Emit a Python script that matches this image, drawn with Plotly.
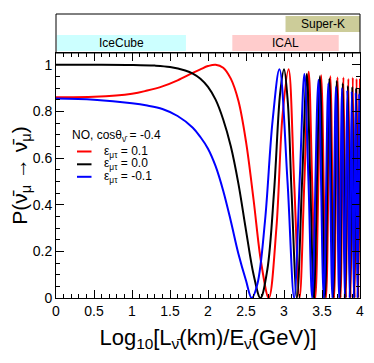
import plotly.graph_objects as go

# ---------------- data ----------------
x_red = [0.0, 0.5, 1.0, 1.2, 1.4, 1.6, 1.8, 1.9, 2.0, 2.1, 2.2, 2.3, 2.4, 2.5, 2.6, 2.7, 2.80,
         2.9, 2.98, 3.06, 3.133, 3.205, 3.268, 3.325, 3.37, 3.414, 3.489, 3.554, 3.61, 3.66,
         3.704, 3.745, 3.782, 3.816, 3.847, 3.877, 3.905, 3.930, 3.955, 3.978, 4.0]
y_red = [0.86, 0.862, 0.875, 0.889, 0.907, 0.933, 0.965, 0.98, 0.994, 1.0, 0.987, 0.94, 0.845,
         0.67, 0.42, 0.15, 0.0, 0.30, 0.78, 0.98, 0.5, 0.0, 0.5, 0.97, 0.5, 0.0, 0.955, 0.0,
         0.95, 0.0, 0.945, 0.0, 0.945, 0.0, 0.94, 0.0, 0.945, 0.0, 0.94, 0.0, 0.94]

x_black = [0.0, 0.5, 1.0, 1.3, 1.5, 1.7, 1.8, 1.9, 2.0, 2.1, 2.2, 2.3, 2.4, 2.5, 2.6, 2.69,
           2.78, 2.87, 2.95, 3.0, 3.05, 3.1, 3.17, 3.238, 3.30, 3.347, 3.393, 3.472, 3.539,
           3.597, 3.648, 3.694, 3.735, 3.773, 3.808, 3.840, 3.870, 3.898, 3.924, 3.949, 3.972, 3.997]
y_black = [1.0, 1.0, 0.999, 0.996, 0.99, 0.975, 0.962, 0.94, 0.905, 0.85, 0.765, 0.65, 0.49,
           0.29, 0.10, 0.0, 0.12, 0.46, 0.88, 0.98, 0.84, 0.45, 0.0, 0.5, 0.96, 0.48, 0.0, 0.95,
           0.0, 0.94, 0.0, 0.93, 0.0, 0.92, 0.0, 0.91, 0.0, 0.905, 0.0, 0.90, 0.0, 0.90]

x_blue = [0.0, 0.5, 1.0, 1.2, 1.4, 1.6, 1.8, 1.9, 2.0, 2.1, 2.2, 2.3, 2.4, 2.5, 2.575, 2.65,
          2.75, 2.85, 2.94, 3.046, 3.133, 3.206, 3.268, 3.322, 3.371, 3.453, 3.523, 3.583,
          3.636, 3.683, 3.725, 3.764, 3.799, 3.832, 3.863, 3.891, 3.918, 3.943, 3.967, 3.989, 4.0]
y_blue = [0.855, 0.85, 0.835, 0.825, 0.81, 0.78, 0.73, 0.69, 0.64, 0.565, 0.46, 0.33, 0.19,
          0.075, 0.0, 0.06, 0.33, 0.76, 0.98, 0.5, 0.0, 0.5, 0.96, 0.5, 0.0, 0.935, 0.0, 0.92,
          0.0, 0.905, 0.0, 0.90, 0.0, 0.89, 0.0, 0.885, 0.0, 0.88, 0.0, 0.875, 0.5]

series_x = [x_red, x_black, x_blue]
series_y = [y_red, y_black, y_blue]
series_names = ["ε<sub>μτ</sub> = 0.1", "ε<sub>μτ</sub> = 0.0", "ε<sub>μτ</sub> = -0.1"]
series_colors = ["#ff0000", "#000000", "#0000ff"]
legend_header = "NO, cosθ<sub>ν̄</sub> = -0.4"

band_names = ["IceCube", "ICAL", "Super-K"]
band_start = [0.01, 2.32, 3.02]
band_end = [1.71, 3.72, 4.0]
band_colors = ["#ccffff", "#ffcccc", "#cccc99"]
band_upper = [False, False, True]

x_tickvals = [0, 0.5, 1, 1.5, 2, 2.5, 3, 3.5, 4]
x_ticktext = ["0", "0.5", "1", "1.5", "2", "2.5", "3", "3.5", "4"]
y_tickvals = [0, 0.2, 0.4, 0.6, 0.8, 1.0]
y_ticktext = ["0", "0.2", "0.4", "0.6", "0.8", "1"]

# ---------------- figure ----------------
FONT = "Liberation Sans, Arial, sans-serif"
OFF = 8                       # page body margin of the html page
W, H = 374 - OFF, 363 - OFF
ML, MR, MT, MB = 56 - OFF, 14, 14 - OFF, 65
PH = H - MT - MB
PW = W - ML - MR
main_top_px = 53              # top of the main frame, in page pixels


def py2paper(py):
    return (H - MB - (py - OFF)) / PH


def px2paper(px):
    return ((px - OFF) - ML) / PW


dom_top = py2paper(main_top_px)

fig = go.Figure()
for xs, ys, nm, col in zip(series_x, series_y, series_names, series_colors):
    fig.add_trace(go.Scatter(x=xs, y=ys, mode="lines", name=nm,
                             line=dict(color=col, width=2, shape="spline", smoothing=1.0),
                             showlegend=False, hoverinfo="skip"))

shapes = []
annotations = []
# top panel frame
shapes.append(dict(type="rect", xref="paper", yref="paper", x0=0, x1=1, y0=dom_top, y1=1,
                   line=dict(color="black", width=1), fillcolor="rgba(0,0,0,0)", layer="above"))
for nm, s, e, c, up in zip(band_names, band_start, band_end, band_colors, band_upper):
    if up:
        y0, y1 = py2paper(32), py2paper(16)
    else:
        y0, y1 = py2paper(51), py2paper(35)
    shapes.append(dict(type="rect", xref="x", yref="paper", x0=s, x1=e, y0=y0, y1=y1,
                       line=dict(width=0), fillcolor=c, layer="below"))
    annotations.append(dict(x=(s + e) / 2, y=(y0 + y1) / 2, xref="x", yref="paper",
                            text=nm, showarrow=False, xanchor="center", yanchor="middle",
                            font=dict(family=FONT, size=12, color="black")))

# legend (header + swatches)
annotations.append(dict(x=px2paper(70), y=py2paper(136), xref="paper", yref="paper",
                        text=legend_header, showarrow=False, xanchor="left", yanchor="middle",
                        font=dict(family=FONT, size=12, color="black")))
row_py = [151.5, 164.3, 176.8]
for nm, col, rp in zip(series_names, series_colors, row_py):
    shapes.append(dict(type="line", xref="paper", yref="paper", x0=px2paper(77), x1=px2paper(91.5),
                       y0=py2paper(rp), y1=py2paper(rp), line=dict(color=col, width=2)))
    annotations.append(dict(x=px2paper(102), y=py2paper(rp), xref="paper", yref="paper",
                            text=nm, showarrow=False, xanchor="left", yanchor="middle",
                            font=dict(family=FONT, size=12, color="black")))

fig.update_layout(
    width=W, height=H,
    margin=dict(l=ML, r=MR, t=MT, b=MB, autoexpand=False),
    paper_bgcolor="white", plot_bgcolor="white",
    font=dict(family=FONT, size=14, color="black"),
    showlegend=False,
    shapes=shapes, annotations=annotations,
    xaxis=dict(range=[0, 4], tickvals=x_tickvals, ticktext=x_ticktext,
               showgrid=False, zeroline=False, showline=True, linecolor="black", linewidth=1,
               mirror="ticks", ticks="inside", ticklen=8, tickcolor="black",
               minor=dict(dtick=0.1, ticks="inside", ticklen=4, tickcolor="black", showgrid=False),
               tickfont=dict(family=FONT, size=14),
               title=dict(text="Log<sub>10</sub>[L<sub>ν̄</sub>(km)/E<sub>ν̄</sub>(GeV)]",
                          font=dict(family=FONT, size=22), standoff=11),
               anchor="y"),
    yaxis=dict(range=[0, 1.05], domain=[0, dom_top], tickvals=y_tickvals, ticktext=y_ticktext,
               showgrid=False, zeroline=False, showline=True, linecolor="black", linewidth=1,
               mirror="ticks", ticks="inside", ticklen=8, tickcolor="black",
               minor=dict(dtick=0.05, ticks="inside", ticklen=4, tickcolor="black", showgrid=False),
               tickfont=dict(family=FONT, size=14),
               title=dict(text="P(ν̄<sub>μ</sub> → ν̄<sub>μ</sub>)",
                          font=dict(family=FONT, size=21), standoff=2)),
)

fig.write_html("out.html")
